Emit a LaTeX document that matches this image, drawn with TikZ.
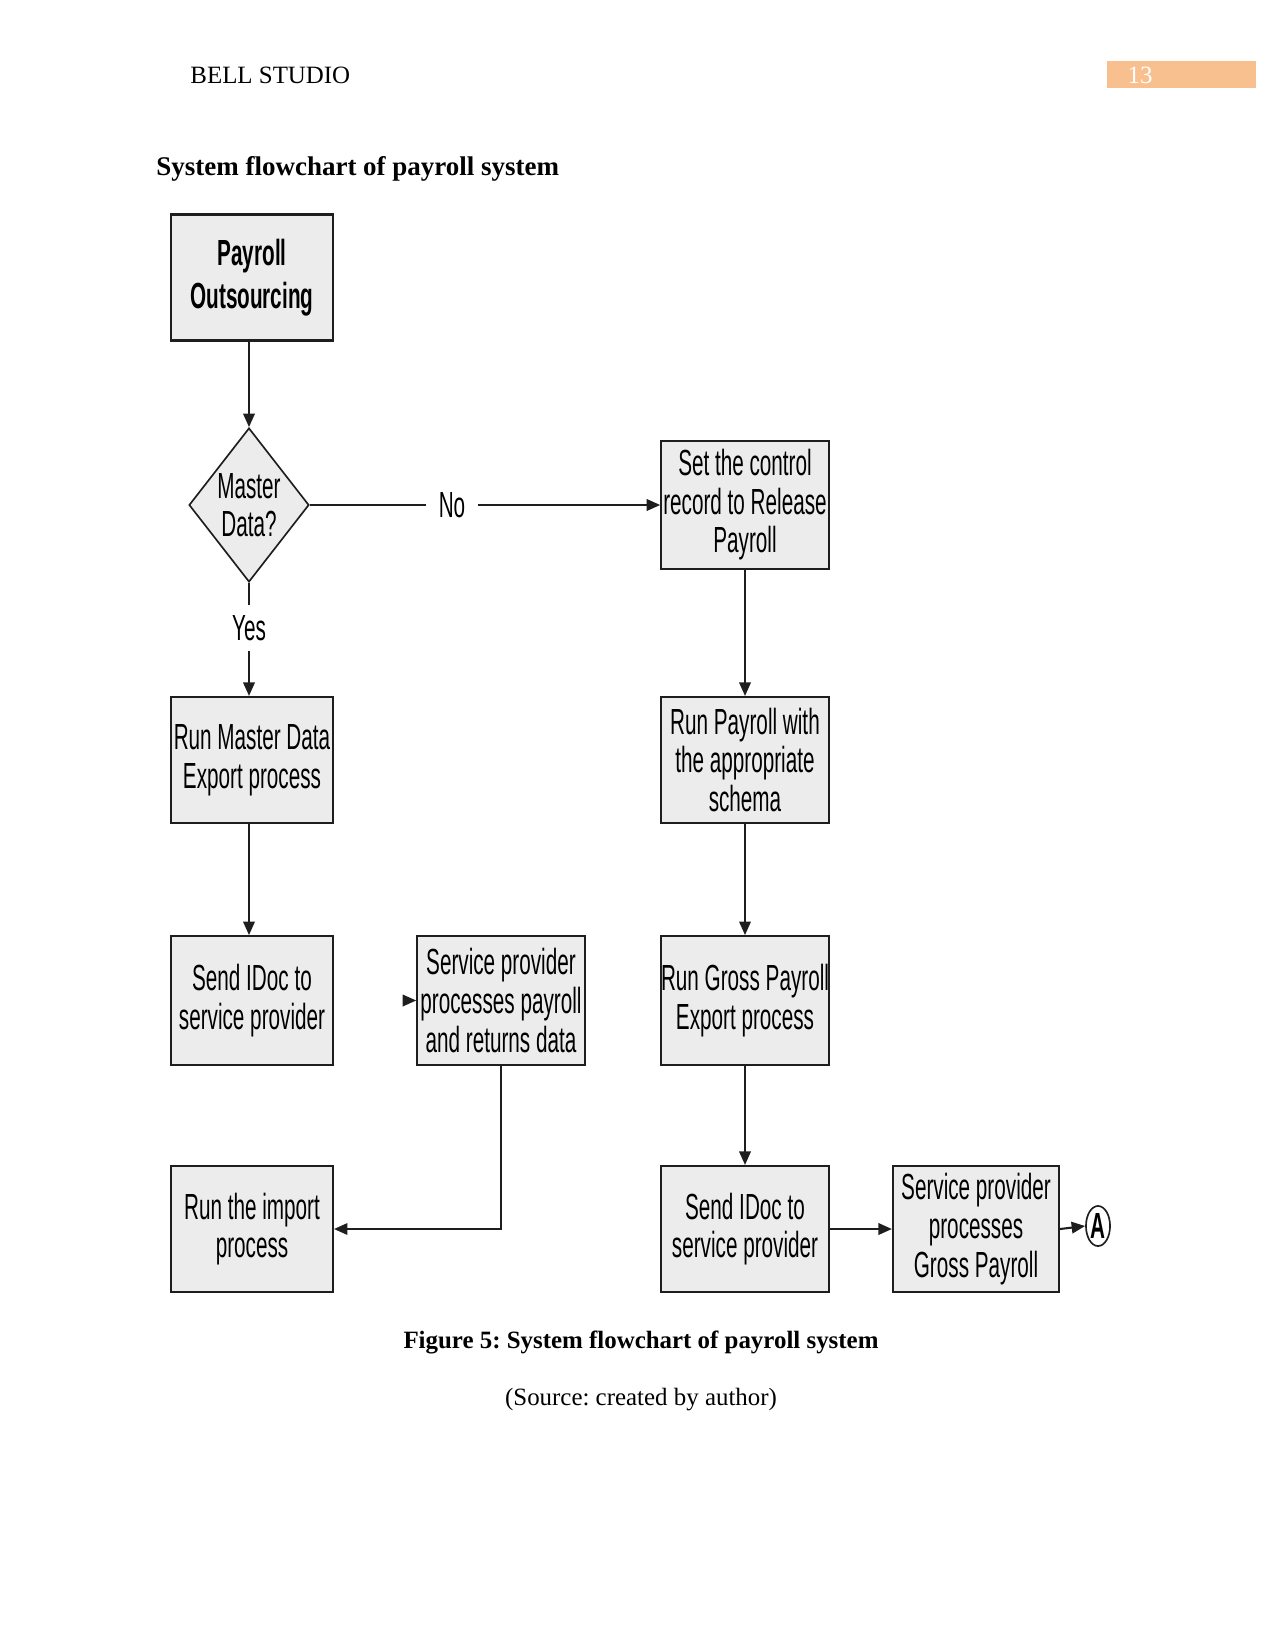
\documentclass[tikz,border=0pt]{standalone}
\usepackage{fontspec}
\setmainfont{Liberation Serif}
\newfontfamily\chartfont[FakeStretch=0.57]{Liberation Sans}
\usetikzlibrary{arrows.meta,shapes.geometric}
\frenchspacing
\definecolor{boxfill}{HTML}{ECECEC}
\definecolor{lineclr}{HTML}{1E1E1E}
\definecolor{hdrorange}{HTML}{F9C08F}
\tikzset{
  chartbox/.style={draw=lineclr,line width=1pt,fill=boxfill,rectangle,inner sep=0pt,
    minimum height=60.7pt,align=center,font=\chartfont\fontsize{17.5}{18.6}\selectfont},
  narrowbox/.style={chartbox,minimum width=78pt},
  widebox/.style={chartbox,minimum width=80.7pt},
  decision/.style={draw=lineclr,line width=0.8pt,fill=boxfill,diamond,inner sep=-3pt,
    shape aspect=0.78,minimum width=57.8pt,minimum height=74.2pt,align=center,
    font=\chartfont\fontsize{17.5}{18.6}\selectfont},
  flowlabel/.style={font=\chartfont\fontsize{17.5}{18.6}\selectfont,inner sep=0pt},
  conn/.style={draw=lineclr,line width=1pt},
  arrowconn/.style={conn,-{Triangle[length=6.5pt,width=5.5pt]}},
}
\begin{document}
\begin{tikzpicture}[x=0.4818pt,y=-0.4818pt]
\useasboundingbox (0,0) rectangle (1275,1650);
% header
\node[anchor=west,inner sep=0pt,font=\fontsize{12}{14}\selectfont] (hdr) at (190,75) {BELL STUDIO};
\fill[hdrorange] (1107,61) rectangle (1256,88);
\node[inner sep=0pt,text=white,font=\fontsize{12}{14}\selectfont] (pg) at (1140,75) {13};
\node[anchor=west,inner sep=0pt,font=\bfseries\fontsize{13}{15}\selectfont] (title) at (156,169) {System flowchart of payroll system};
% nodes
\node[narrowbox,font=\chartfont\bfseries\fontsize{17.5}{20.5}\selectfont] (po) at (252,277.5) {Payroll\\Outsourcing};
\node[decision] (md) at (249,505) {Master\\Data?};
\node[widebox,minimum height=61.7pt] (setc) at (745,505) {Set the control\\record to Release\\Payroll};
\node[narrowbox] (rmd) at (252,760) {Run Master Data\\Export process};
\node[widebox] (rp) at (745,760) {Run Payroll with\\the appropriate\\schema};
\node[narrowbox,minimum height=62pt] (sid1) at (252,1000.5) {Send IDoc to\\service provider};
\node[widebox,minimum height=62pt] (spp) at (501,1000.5) {Service provider\\processes payroll\\and returns data};
\node[widebox,minimum height=62pt] (rg) at (745,1000.5) {Run Gross Payroll\\Export process};
\node[narrowbox] (imp) at (252,1229) {Run the import\\process};
\node[widebox] (sid2) at (745,1229) {Send IDoc to\\service provider};
\node[widebox,minimum width=80pt] (spg) at (976,1229) {Service provider\\processes\\Gross Payroll};
\node[draw=lineclr,line width=0.8pt,ellipse,inner sep=0pt,minimum width=11.6pt,minimum height=19.3pt,
  font=\chartfont\bfseries\fontsize{17.5}{18.6}\selectfont] (conA) at (1098,1226) {A};
% labels on connectors
\node[flowlabel,inner xsep=6pt] (nolab) at (452,505) {No};
\node[flowlabel,inner ysep=5pt] (yeslab) at (249,628) {Yes};
\coordinate (dangle) at (404,1000.5);
% connectors
\draw[arrowconn] (md.north |- po.south) -- (md.north);
\draw[conn] (md.east) -- (nolab.west);
\draw[arrowconn] (nolab.east) -- (setc.west);
\draw[conn] (md.south) -- (yeslab.north);
\draw[arrowconn] (yeslab.south) -- (yeslab.south |- rmd.north);
\draw[arrowconn] (md.south |- rmd.south) -- (md.south |- sid1.north);
\draw[arrowconn] (setc.south) -- (rp.north);
\draw[arrowconn] (rp.south) -- (rg.north);
\draw[arrowconn] (rg.south) -- (sid2.north);
\draw[arrowconn] (sid2.east) -- (spg.west);
\draw[arrowconn] (spg.east) -- (conA.west);
\draw[arrowconn] (spp.south) -- (spp.south |- imp.east) -- (imp.east);
\draw[arrowconn] (dangle) -- (spp.west);
% caption
\node[inner sep=0pt,font=\bfseries\fontsize{12}{14}\selectfont] (cap) at (641,1342) {Figure 5: System flowchart of payroll system};
\node[inner sep=0pt,font=\fontsize{12}{14}\selectfont] (src) at (641,1400) {(Source: created by author)};
\end{tikzpicture}
\end{document}
